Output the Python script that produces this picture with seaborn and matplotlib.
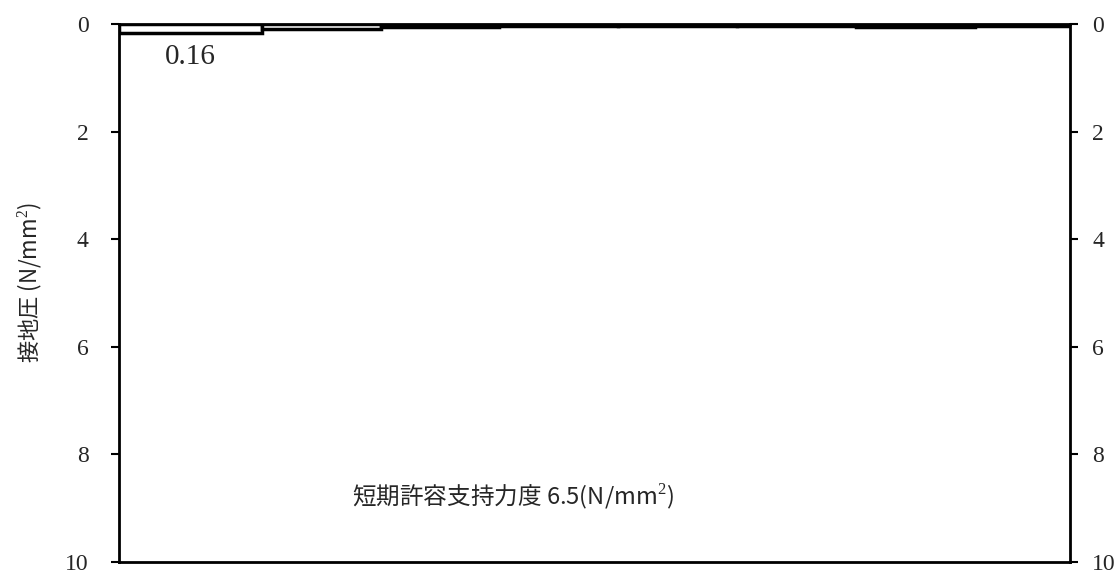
import matplotlib
matplotlib.use("Agg")
import matplotlib.pyplot as plt
import seaborn as sns
import numpy as np
import pandas as pd

# Data
bin_edges = [0, 1.2, 2.2, 3.2, 4.2, 5.2, 6.2, 7.2, 8.0]
pressures = [0.16, 0.10, 0.06, 0.04, 0.03, 0.04, 0.05, 0.03]
y_ticks = [0, 2, 4, 6, 8, 10]
ylabel = "接地圧 (N/mm$^2$)"
note = "短期許容支持力度 6.5(N/mm$^2$)"
max_label = "0.16"

sns.set_theme(style="white")
plt.rcParams['font.family'] = ['Liberation Serif', 'Noto Sans CJK JP', 'DejaVu Sans']
plt.rcParams['mathtext.fontset'] = 'custom'
plt.rcParams['mathtext.rm'] = 'Liberation Serif'

centers = [(bin_edges[i] + bin_edges[i + 1]) / 2 for i in range(len(pressures))]
df = pd.DataFrame({"x": centers, "p": pressures})

fig = plt.figure(figsize=(11.2, 5.73), dpi=100)
ax = fig.add_axes([119 / 1120, 1 - 562 / 573, (1070 - 119) / 1120, (562 - 24) / 573])

sns.histplot(data=df, x="x", weights="p", bins=bin_edges, ax=ax,
             color="white", edgecolor="black", linewidth=2.5, alpha=1)

ax.set_xlim(bin_edges[0], bin_edges[-1])
ax.set_ylim(10, 0)
ax.set_yticks(y_ticks)
ax.set_yticklabels([str(t) for t in y_ticks])
ax.set_xticks([])
ax.set_xlabel("")
ax.set_ylabel(ylabel, fontsize=16, family=['Noto Sans CJK JP', 'Liberation Serif'])
ax.yaxis.set_label_coords((44 - 119) / 951, 0.52)

for s in ax.spines.values():
    s.set_color("black")
    s.set_linewidth(2)

ax.tick_params(axis="y", which="both", left=True, right=False, labelleft=True, labelright=False,
               direction="out", length=6, width=1.5, color="black", labelsize=17, pad=16)

ax2 = ax.twinx()
ax2.set_ylim(10, 0)
ax2.set_yticks(y_ticks)
ax2.set_yticklabels([str(t) for t in y_ticks])
ax2.tick_params(axis="y", right=True, labelright=True, direction="out", length=6, width=1.5,
                color="black", labelsize=17, pad=10)
for s in ax2.spines.values():
    s.set_visible(False)

ax.text(centers[0], 0.62, max_label, fontsize=21, ha="center", va="center",
        family=['Liberation Serif'])
ax.text(3.31, 8.8, note, fontsize=17, ha="center", va="center",
        family=['Noto Sans CJK JP', 'Liberation Serif'])

fig.savefig("out.png", dpi=100)
